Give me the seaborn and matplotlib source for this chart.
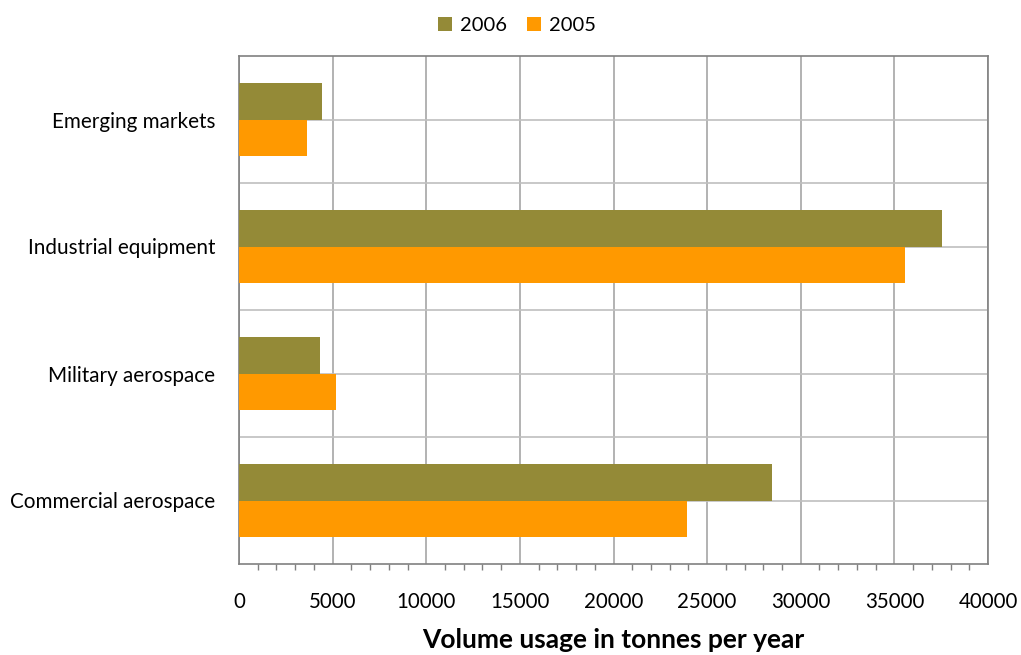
import matplotlib
matplotlib.use("Agg")
import matplotlib.pyplot as plt
from matplotlib.ticker import MultipleLocator
import seaborn as sns
import pandas as pd

categories = ["Emerging markets", "Industrial equipment", "Military aerospace", "Commercial aerospace"]
years = ["2006", "2005"]
values_2006 = [4450, 37550, 4340, 28480]
values_2005 = [3650, 35580, 5180, 23930]
xticks = [0, 5000, 10000, 15000, 20000, 25000, 30000, 35000, 40000]
colors = {"2006": "#948A37", "2005": "#FF9900"}

df = pd.DataFrame({
    "category": categories * 2,
    "year": ["2006"] * 4 + ["2005"] * 4,
    "value": values_2006 + values_2005,
})

sns.set_theme(style="white")
plt.rcParams["font.family"] = ["Lato", "DejaVu Sans"]
plt.rcParams["text.color"] = "black"
plt.rcParams["axes.labelcolor"] = "black"

fig = plt.figure(figsize=(10.21, 6.55), dpi=100)
ax = fig.add_axes([239 / 1021, 1 - 564 / 655, (988 - 239) / 1021, (564 - 56) / 655])

sns.barplot(data=df, x="value", y="category", hue="year", order=categories,
            hue_order=years, palette=colors, orient="h", width=0.572, gap=0,
            saturation=1, edgecolor="none", linewidth=0, ax=ax, zorder=3)

ax.set_xlim(0, 40000)
ax.set_ylim(3.5, -0.5)
ax.set_xticks(xticks)
ax.set_xticklabels([str(t) for t in xticks], fontsize=14.8, color="#000000")
ax.xaxis.set_minor_locator(MultipleLocator(1000))
ax.set_yticks(range(len(categories)))
ax.set_yticklabels(categories, fontsize=14.9, color="#000000")
ax.set_yticks([0.5, 1.5, 2.5], minor=True)

ax.grid(True, axis="x", which="major", color="#A6A6A6", linewidth=1.2, zorder=0)
ax.grid(True, axis="y", which="both", color="#BFBFBF", linewidth=1.2, zorder=0)
ax.set_axisbelow(True)

ax.tick_params(axis="x", which="major", direction="out", length=6, width=1, color="#808080", pad=14)
ax.tick_params(axis="x", which="minor", direction="out", length=4, width=1, color="#808080", bottom=True)
ax.tick_params(axis="y", which="both", length=0, pad=17)

for s in ax.spines.values():
    s.set_visible(True)
    s.set_color("#808080")
    s.set_linewidth(1.2)

ax.set_xlabel("Volume usage in tonnes per year", fontsize=19, fontweight="bold",
              labelpad=12, color="black")
ax.set_ylabel("")

leg = ax.legend(loc="upper center", bbox_to_anchor=((517 - 239) / 749, 1 + 47 / 508),
                ncol=2, frameon=False, fontsize=14.5, handlelength=0.7, handleheight=0.7,
                handletextpad=0.4, columnspacing=1.0, borderaxespad=0)
for t in leg.get_texts():
    t.set_color("black")

fig.savefig("out.png", dpi=100, facecolor="white")
